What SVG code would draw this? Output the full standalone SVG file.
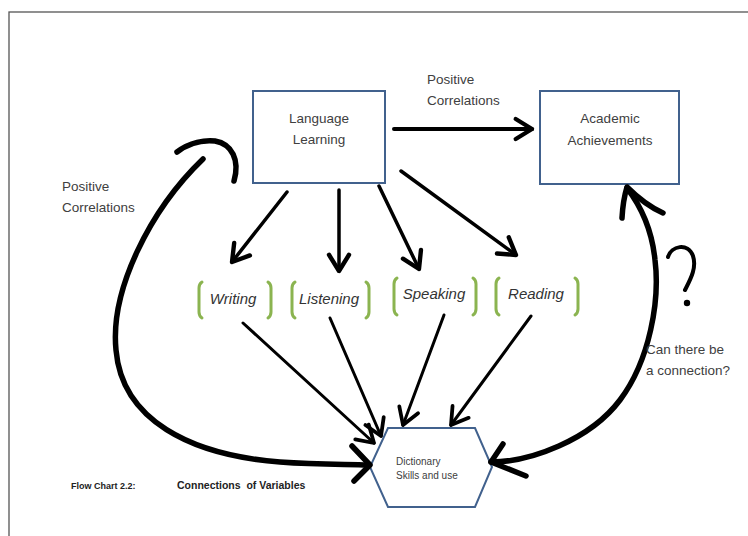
<svg xmlns="http://www.w3.org/2000/svg" width="748" height="536" viewBox="0 0 748 536">
<defs>
<style>
.lbl{font-family:"Liberation Sans",Arial,sans-serif;font-size:13.5px;fill:#404040}
.box{fill:#fff;stroke:#41618d;stroke-width:2}
.skill{font-family:"Liberation Sans",Arial,sans-serif;font-size:15px;font-style:italic;fill:#333}
.br{fill:none;stroke:#8bb450;stroke-width:3;stroke-linecap:round}
.ln{fill:none;stroke:#000;stroke-linecap:round;stroke-linejoin:round}
.cap{font-family:"Liberation Sans",Arial,sans-serif;font-weight:bold;fill:#222}
</style>
<marker id="ah" markerUnits="userSpaceOnUse" markerWidth="30" markerHeight="30" viewBox="-16 -12 20 24" refX="0" refY="0" orient="auto">
<path d="M-13,-8 L0,0 L-13,8" fill="none" stroke="#000" stroke-width="3.5" stroke-linecap="round" stroke-linejoin="round"/>
</marker>
<marker id="ah2" markerUnits="userSpaceOnUse" markerWidth="30" markerHeight="30" viewBox="-16 -12 20 24" refX="0" refY="0" orient="auto">
<path d="M-13,-8 L0,0 L-13,8" fill="none" stroke="#000" stroke-width="3" stroke-linecap="round" stroke-linejoin="round"/>
</marker>
</defs>
<rect x="0" y="0" width="748" height="536" fill="#fff"/>
<rect x="9" y="12" width="800" height="600" fill="none" stroke="#555" stroke-width="1.3"/>

<g id="language-learning">
<rect class="box" x="253" y="91" width="132" height="92"/>
<text class="lbl" x="319" y="123" text-anchor="middle">Language</text>
<text class="lbl" x="319" y="144" text-anchor="middle">Learning</text>
</g>
<g id="academic-achievements">
<rect class="box" x="540" y="91" width="139" height="93"/>
<text class="lbl" x="610" y="123" text-anchor="middle">Academic</text>
<text class="lbl" x="610" y="145" text-anchor="middle">Achievements</text>
</g>
<g id="writing">
<path class="br" d="M202,282 Q199,284 199,288 L199,312 Q199,316 202,318"/>
<path class="br" d="M268,282 Q271,284 271,288 L271,312 Q271,316 268,318"/>
<text class="skill" x="233" y="304" text-anchor="middle">Writing</text>
</g>
<g id="listening">
<path class="br" d="M295,282 Q292,284 292,288 L292,312 Q292,316 295,318"/>
<path class="br" d="M366,282 Q369,284 369,288 L369,312 Q369,316 366,318"/>
<text class="skill" x="329" y="304" text-anchor="middle">Listening</text>
</g>
<g id="speaking">
<path class="br" d="M397,278 Q394,280 394,284 L394,309 Q394,313 397,315"/>
<path class="br" d="M473,278 Q476,280 476,284 L476,309 Q476,313 473,315"/>
<text class="skill" x="434" y="299" text-anchor="middle">Speaking</text>
</g>
<g id="reading">
<path class="br" d="M499,278 Q496,280 496,284 L496,309 Q496,313 499,315"/>
<path class="br" d="M575,278 Q578,280 578,284 L578,309 Q578,313 575,315"/>
<text class="skill" x="536" y="299" text-anchor="middle">Reading</text>
</g>
<g id="dictionary">
<polygon points="388,428 475,428 492,467 475,507 388,507 370,467" fill="#fff" stroke="#41618d" stroke-width="2"/>
<text x="396" y="465" font-family="'Liberation Sans',Arial,sans-serif" font-size="10" fill="#404040">Dictionary</text>
<text x="396" y="479" font-family="'Liberation Sans',Arial,sans-serif" font-size="10" fill="#404040">Skills and use</text>
</g>

<g id="connectors">
<path class="ln" d="M394,129 L532,129" stroke-width="4" marker-end="url(#ah)"/>
<path class="ln" d="M287,192 L232,262" stroke-width="3.5" marker-end="url(#ah)"/>
<path class="ln" d="M339,190 L339,271" stroke-width="3.5" marker-end="url(#ah)"/>
<path class="ln" d="M379,186 L419,269" stroke-width="3.5" marker-end="url(#ah)"/>
<path class="ln" d="M401,171 L516,255" stroke-width="3.5" marker-end="url(#ah)"/>
<path class="ln" d="M243,323 L374,443" stroke-width="3" marker-end="url(#ah2)"/>
<path class="ln" d="M330,318 L381,436" stroke-width="3" marker-end="url(#ah2)"/>
<path class="ln" d="M444,315 L403,425" stroke-width="3" marker-end="url(#ah2)"/>
<path class="ln" d="M531,316 L451,425" stroke-width="3" marker-end="url(#ah2)"/>
<path class="ln" d="M203,159 C150,210 110,290 116,350 C122,420 190,455 280,462 C320,465 350,464 368,465" stroke-width="5.5"/>
<path class="ln" d="M352,446 L370,465 L354,481" stroke-width="5.5"/>
<path class="ln" d="M177,152 C190,142 205,140 215,141 C232,144 240,160 234,181" stroke-width="5.5"/>
<path class="ln" d="M491,462 C530,462 590,440 620,400 C650,360 660,300 655,260 C652,230 640,205 627,188" stroke-width="5.5"/>
<path class="ln" d="M622,218 Q623,200 627,187 Q645,205 663,213" stroke-width="5.5"/>
<path class="ln" d="M503,444 L491,462 L526,476" stroke-width="5.5"/>
</g>

<path class="ln" d="M668,257 C671,246 688,242 693,256 C697,268 690,280 685,290" stroke-width="4"/>
<circle cx="687" cy="303" r="3.2" fill="#000"/>

<text class="lbl" x="427" y="84">Positive</text>
<text class="lbl" x="427" y="105">Correlations</text>
<text class="lbl" x="62" y="191">Positive</text>
<text class="lbl" x="62" y="212">Correlations</text>
<text class="lbl" x="646" y="354">Can there be</text>
<text class="lbl" x="646" y="375">a connection?</text>
<text class="cap" x="71" y="489" font-size="9">Flow Chart 2.2:</text>
<text class="cap" x="177" y="489" font-size="10.5" xml:space="preserve">Connections  of Variables</text>
</svg>
